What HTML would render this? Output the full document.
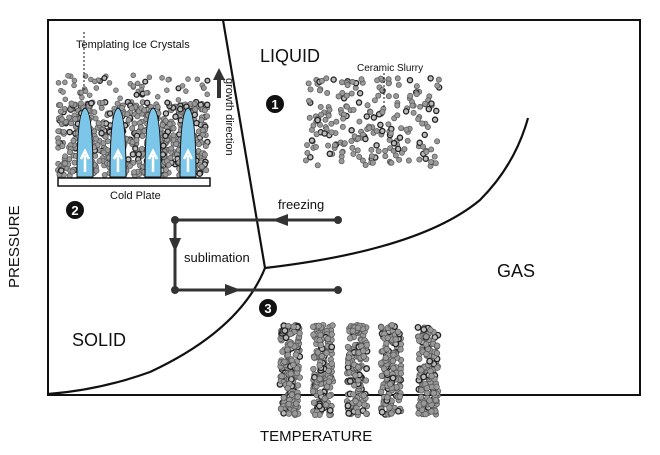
<!DOCTYPE html>
<html><head><style>
body{margin:0;background:#fff;}
svg{display:block;font-family:"Liberation Sans",sans-serif;}
</style></head><body>
<svg id="s" width="660" height="455" viewBox="0 0 660 455">
<rect x="48" y="20" width="592" height="375" fill="none" stroke="#111" stroke-width="2"/>
<g id="dots"></g>
<path d="M223 20 L265 268" stroke="#111" stroke-width="2.2" fill="none"/>
<path d="M265 268 Q240 330 150 372 Q100 390 48 394" stroke="#111" stroke-width="2.2" fill="none"/>
<path d="M265 268 Q420 250 480 200 Q515 165 528 118" stroke="#111" stroke-width="2.2" fill="none"/>
<g stroke="#333" stroke-width="3" fill="none">
<path d="M175 220 H338 M175 220 V290 M175 290 H338"/>
</g>
<g fill="#333">
<circle cx="175" cy="220" r="4"/><circle cx="338" cy="220" r="4"/><circle cx="175" cy="290" r="4"/><circle cx="338" cy="290" r="4"/>
<polygon points="272,220 288,214 288,226"/>
<polygon points="175,252 169,238 181,238"/>
<polygon points="241,290 225,284 225,296"/>
<rect x="217" y="78" width="4" height="20"/><polygon points="219,68 213,80 225,80"/>
</g>
<rect x="58" y="178" width="152" height="8" fill="#fff" stroke="#111" stroke-width="1.5"/>
<g fill="#111"><circle cx="275" cy="104" r="9"/><circle cx="75" cy="210" r="9"/><circle cx="268" cy="308" r="9"/></g>
<g fill="#fff" font-size="13" font-weight="bold" text-anchor="middle"><text x="275" y="109">1</text><text x="75" y="215">2</text><text x="268" y="313">3</text></g>
<path d="M84 32 V90 M384 73 V108" stroke="#111" stroke-dasharray="2,2"/>
<g fill="#111">
<text x="260" y="62" font-size="18">LIQUID</text>
<text x="497" y="277" font-size="18">GAS</text>
<text x="72" y="346" font-size="18">SOLID</text>
<text x="260" y="441" font-size="15">TEMPERATURE</text>
<text transform="translate(19,288) rotate(-90)" font-size="15">PRESSURE</text>
<text transform="translate(226,78) rotate(90)" font-size="11">growth direction</text>
<text x="76" y="48" font-size="11">Templating Ice Crystals</text>
<text x="357" y="71" font-size="10">Ceramic Slurry</text>
<text x="110" y="199" font-size="11">Cold Plate</text>
<text x="278" y="209" font-size="13">freezing</text>
<text x="184" y="262" font-size="13">sublimation</text>
</g>
</svg>
<script>
var g=document.getElementById('dots'),seed=7;
function r(){seed=(seed*16807)%2147483647;return seed/2147483647;}
function dot(x,y,rad){var dark=r()<0.2;var c=document.createElementNS('http://www.w3.org/2000/svg','circle');
c.setAttribute('cx',x);c.setAttribute('cy',y);c.setAttribute('r',rad);c.setAttribute('fill',dark?'#bbb':'#999');
c.setAttribute('stroke',dark?'#222':'#555');c.setAttribute('stroke-width',dark?1.3:0.7);g.appendChild(c);}
var i;
// packed layer
for(i=0;i<700;i++)dot(58+r()*150,102+r()*74,2.6);
for(i=0;i<60;i++)dot(58+r()*150,75+r()*28,2.4);
// crystals
var xs=[85,118,153,188];
xs.forEach(function(x){var p=document.createElementNS('http://www.w3.org/2000/svg','path');
p.setAttribute('d','M'+(x-8)+' 177 Q'+(x-8)+' 110 '+x+' 108 Q'+(x+8)+' 110 '+(x+8)+' 177 Z');
p.setAttribute('fill','#7cc6ea');p.setAttribute('stroke','#111');p.setAttribute('stroke-width','1');g.appendChild(p);
var a=document.createElementNS('http://www.w3.org/2000/svg','path');
a.setAttribute('d','M'+x+' 172 V155 M'+(x-4)+' 159 L'+x+' 151 L'+(x+4)+' 159');a.setAttribute('stroke','#fff');a.setAttribute('stroke-width','2.5');a.setAttribute('fill','none');g.appendChild(a);});
// slurry
for(i=0;i<230;i++){var x=305+r()*135,y=78+r()*88;dot(x,y,2.6);}
// columns
[290,323,357,391,428].forEach(function(cx){for(var k=0;k<160;k++)dot(cx-10+r()*20,325+r()*90,2.8);});
</script>
</body></html>
